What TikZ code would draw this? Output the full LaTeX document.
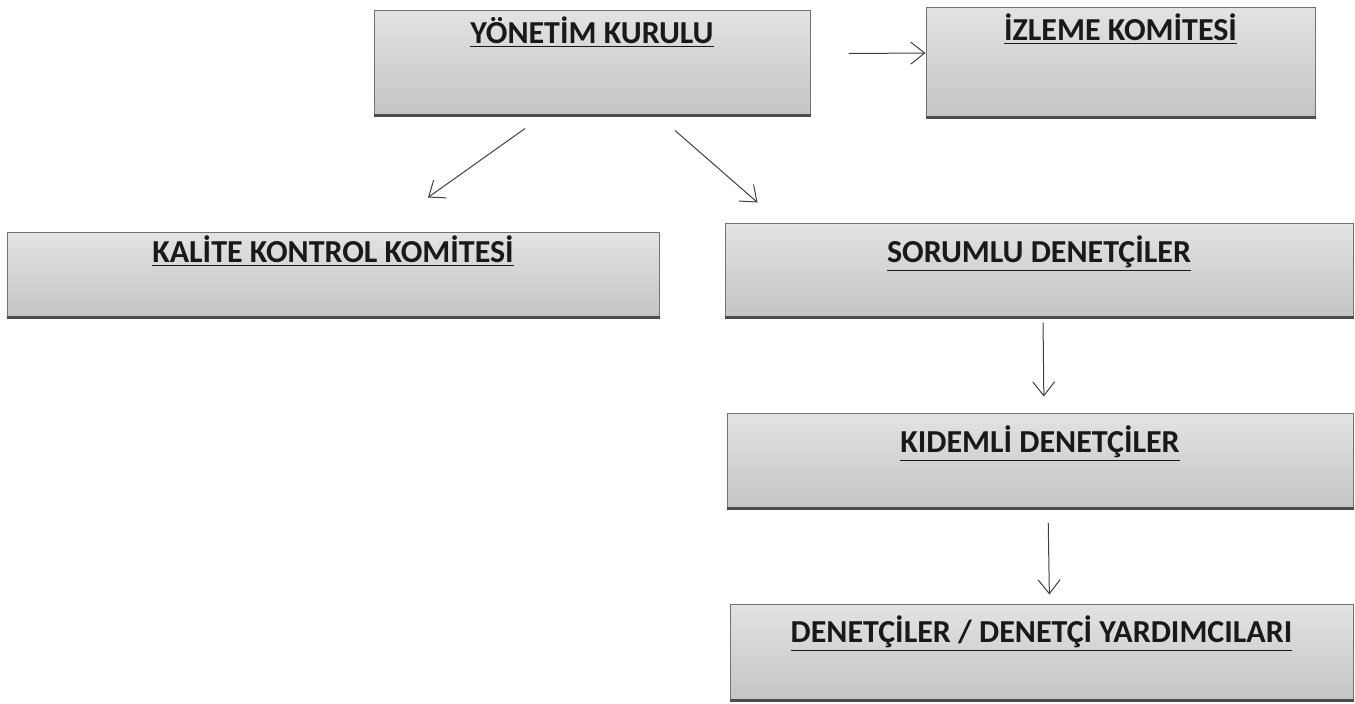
\documentclass[tikz,border=0pt]{standalone}
\usepackage{fontspec}
\setmainfont{Carlito}
\usetikzlibrary{arrows.meta,fit}

\tikzset{
  kutu/.style={inner sep=0pt, draw=black!55, line width=0.5pt,
    top color=gray!22, bottom color=gray!46},
  yazi/.style={anchor=base, font=\bfseries\fontsize{16}{19}\selectfont, text=black!90},
  alt/.style={line width=1.4pt, draw=black!70},
  ok/.style={-{Straight Barb[length=7pt,width=11pt]}, line width=0.5pt, draw=black!75},
}

\newcommand{\baslik}[1]{\underline{#1}}

\begin{document}
\begin{tikzpicture}[x=0.5pt, y=-0.5pt]
  \useasboundingbox (0,0) rectangle (1355,703);

  % boxes
  \node[kutu, fit={(374,10) (810,115)}] (yk) {};
  \node[kutu, fit={(926,7) (1315,117)}] (ik) {};
  \node[kutu, fit={(7,232) (659,317)}] (kkk) {};
  \node[kutu, fit={(725,223) (1353,317)}] (sd) {};
  \node[kutu, fit={(727,413) (1353,508)}] (kd) {};
  \node[kutu, fit={(730,604) (1353,700)}] (ddy) {};

  \foreach \k in {yk,ik,kkk,sd,kd,ddy}
  \draw[alt] (\k.south west) -- (\k.south east);

  % texts
  \node[yazi] (yk-y) at ([yshift=-17pt]yk.north) {\baslik{YÖNETİM KURULU}};
  \node[yazi] (ik-y) at ([yshift=-17pt]ik.north) {\baslik{İZLEME KOMİTESİ}};
  \node[yazi] (kkk-y) at ([yshift=-15.5pt]kkk.north) {\baslik{KALİTE KONTROL KOMİTESİ}};
  \node[yazi] (sd-y) at ([yshift=-20pt]sd.north) {\baslik{SORUMLU DENETÇİLER}};
  \node[yazi] (kd-y) at ([yshift=-20pt]kd.north) {\baslik{KIDEMLİ DENETÇİLER}};
  \node[yazi] (ddy-y) at ([yshift=-19.5pt]ddy.north) {\baslik{DENETÇİLER / DENETÇİ YARDIMCILARI}};

  % arrows
  \draw[ok] ([shift={(19pt,4.5pt)}]yk.east) -- ([yshift=4.5pt]ik.west);
  \draw[ok] ([shift={(-33.5pt,-6.5pt)}]yk.south) -- ([shift={(47.5pt,17pt)}]kkk.north);
  \draw[ok] ([shift={(41.5pt,-7.5pt)}]yk.south) -- ([shift={(16.5pt,10pt)}]sd.north west);
  \draw[ok, shorten <=2.5pt, shorten >=8pt] ([xshift=2pt]sd.south) -- ([xshift=2pt]kd.north);
  \draw[ok, shorten <=7pt, shorten >=4.5pt] ([xshift=4pt]kd.south) -- ([xshift=4pt]ddy.north);
\end{tikzpicture}
\end{document}
